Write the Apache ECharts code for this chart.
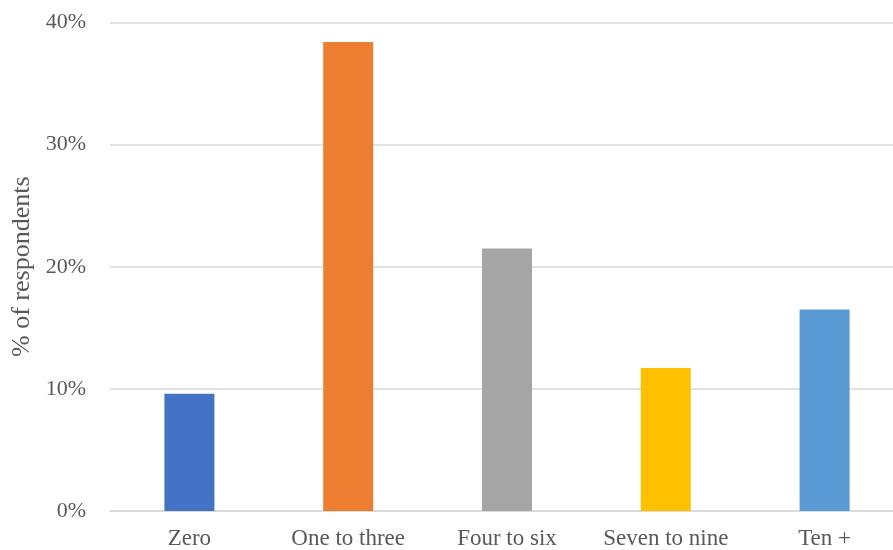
<!DOCTYPE html>
<html>
<head>
<meta charset="utf-8">
<script src="https://cdn.jsdelivr.net/npm/echarts@6/dist/echarts.min.js"></script>
<style>
  html, body { margin: 0; padding: 0; background: #fff; overflow: hidden; }
  body { width: 893px; height: 550px; }
  /* the plot area continues a little past the right edge of the page */
  #chart { width: 910px; height: 550px; }
</style>
</head>
<body>
<div id="chart"></div>
<script>
// Number of items per respondent, share of respondents (%)
const categories = ['Zero', 'One to three', 'Four to six', 'Seven to nine', 'Ten +'];
const shares = [9.6, 38.4, 21.5, 11.7, 16.5];
const barColors = ['#4472C4', '#ED7D31', '#A5A5A5', '#FFC000', '#5B9BD5'];
const yTicks = { min: 0, max: 40, step: 10 };

const FONT = '"Liberation Serif", "Times New Roman", serif';
const TEXT = '#595959';

const chart = echarts.init(document.getElementById('chart'), null, { renderer: 'canvas' });
chart.setOption({
  animation: false,
  grid: { left: 110, right: 6, top: 22.5, bottom: 38.5, containLabel: false },
  xAxis: {
    type: 'category',
    data: categories,
    axisLine: { show: true, lineStyle: { color: '#D9D9D9', width: 1.5 } },
    axisTick: { show: false },
    axisLabel: { color: TEXT, fontFamily: FONT, fontSize: 23, margin: 16, interval: 0, hideOverlap: false }
  },
  yAxis: {
    type: 'value',
    min: yTicks.min,
    max: yTicks.max,
    interval: yTicks.step,
    name: '% of respondents',
    nameLocation: 'middle',
    nameGap: 74,
    nameTextStyle: { color: TEXT, fontFamily: FONT, fontSize: 26 },
    axisLine: { show: false },
    axisTick: { show: false },
    splitLine: { lineStyle: { color: '#D9D9D9', width: 1.5 } },
    axisLabel: { color: TEXT, fontFamily: FONT, fontSize: 22, margin: 24, formatter: v => v + '%' }
  },
  series: [{
    type: 'bar',
    barWidth: 50,
    data: shares.map((v, i) => ({ value: v, itemStyle: { color: barColors[i] } }))
  }]
});
</script>
</body>
</html>
